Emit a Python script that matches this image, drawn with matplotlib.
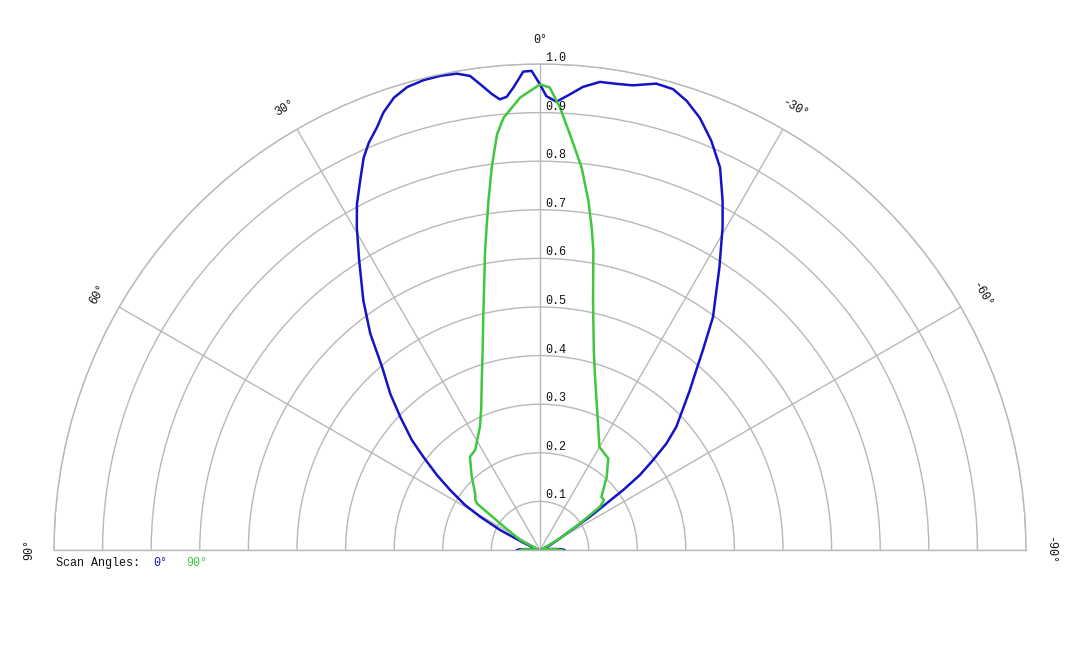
import numpy as np
import matplotlib.pyplot as plt

plt.rcParams['font.family'] = ['Liberation Mono', 'DejaVu Sans Mono']

# scan 0 deg (blue): angle in degrees, relative intensity
blue_theta = [-90, -88, -85, -80, -72, -65, -60, -58, -56.3, -55.0, -54.2,
              -53.1, -51.5, -49.9, -47.9, -43.2, -41.0, -39.2, -36.6, -32.4,
              -29.5, -27.6, -25.2, -22.7, -20.3, -18.1, -16.1, -14.0, -11.3,
              -9.3, -7.3, -5.3, -3.8, -2.1, -0.8, 0, 1.0, 2.0, 3.3, 4.2, 5.1,
              6.0, 7.3, 8.4, 9.9, 11.9, 13.9, 16.0, 17.9, 19.7, 21.1, 22.8,
              24.2, 25.7, 27.9, 29.6, 32.0, 35.3, 38.1, 40.8, 43.8, 46.4,
              49.4, 51.4, 54.0, 56.3, 59.0, 60.9, 63.4, 66, 70, 78, 85, 88,
              90]
blue_r = [0.050, 0.045, 0.025, 0.008, 0.004, 0.020, 0.045, 0.065, 0.123,
          0.167, 0.211, 0.257, 0.297, 0.340, 0.378, 0.450, 0.490, 0.530,
          0.597, 0.689, 0.763, 0.811, 0.870, 0.913, 0.948, 0.972, 0.987,
          0.989, 0.975, 0.972, 0.971, 0.957, 0.940, 0.923, 0.934, 0.958,
          0.986, 0.985, 0.953, 0.935, 0.931, 0.943, 0.966, 0.986, 0.995,
          0.997, 0.996, 0.991, 0.978, 0.956, 0.932, 0.909, 0.885, 0.851,
          0.805, 0.763, 0.702, 0.629, 0.566, 0.497, 0.445, 0.397, 0.347,
          0.307, 0.262, 0.222, 0.180, 0.141, 0.092, 0.040, 0.015, 0.005,
          0.020, 0.042, 0.047]

# scan 90 deg (green)
green_theta = [-90, -87, -82, -72, -64, -59.7, -56.3, -54.2, -52.1, -49.2,
               -42.3, -36.7, -32.8, -29.9, -25.0, -20.7, -17.5, -15.1, -12.0,
               -10.1, -9.1, -7.9, -6.2, -4.1, -2.6, -1.2, 0, 2.5, 4.8, 5.9,
               7.2, 8.4, 9.4, 10.4, 13.7, 16.0, 19.3, 22.5, 26.0, 33.0, 36.9,
               43.0, 48.9, 52.4, 53.6, 56.3, 63.4, 68, 78, 85, 88, 90]
green_r = [0.045, 0.030, 0.010, 0.004, 0.010, 0.048, 0.099, 0.152, 0.167,
           0.167, 0.204, 0.235, 0.240, 0.245, 0.283, 0.329, 0.376, 0.425,
           0.525, 0.626, 0.672, 0.725, 0.792, 0.858, 0.911, 0.952, 0.958,
           0.932, 0.893, 0.860, 0.793, 0.726, 0.673, 0.626, 0.493, 0.428,
           0.363, 0.316, 0.282, 0.245, 0.240, 0.206, 0.177, 0.168, 0.161,
           0.099, 0.046, 0.010, 0.004, 0.015, 0.035, 0.040]

r_ticks = [0.1, 0.2, 0.3, 0.4, 0.5, 0.6, 0.7, 0.8, 0.9, 1.0]
theta_ticks = [-90, -60, -30, 0, 30, 60, 90]
scan_names = ['0°', '90°']
scan_colors = ['#1414c4', '#3ec83e']
grid_col = '#b8b8b8'
text_col = '#111111'

fig = plt.figure(figsize=(10.8, 6.48), dpi=100)
# the half disc sits in the middle half of a square box, so the box runs
# past the figure top and bottom; centre ends up at (540, 550) px
ax = fig.add_axes([54 / 1080, (648 - 793) / 648, 972 / 1080, 972 / 648],
                  projection='polar')
ax.set_theta_zero_location('N')
ax.set_theta_direction(1)
ax.set_thetamin(-90)
ax.set_thetamax(90)
ax.set_ylim(0, 1.0)
ax.set_rgrids(r_ticks, labels=[])
ax.set_thetagrids(theta_ticks, labels=[])
ax.grid(True, color=grid_col, linewidth=1.0)
ax.tick_params(length=0)
for sp in ax.spines.values():
    sp.set_color(grid_col)
    sp.set_linewidth(1.0)

ax.plot(np.deg2rad(blue_theta), blue_r, color=scan_colors[0], lw=1.8,
        solid_joinstyle='round')
ax.plot(np.deg2rad(green_theta), green_r, color=scan_colors[1], lw=1.8,
        solid_joinstyle='round')

# ring labels along the 0 deg line
for r in r_ticks:
    ax.annotate(f'{r:.1f}', xy=(0, r), xytext=(5, 6),
                textcoords='offset pixels', ha='left', va='center',
                fontsize=8.5, color=text_col)

# angle labels, turned along the arc
for t in theta_ticks:
    ax.text(np.deg2rad(t), 1.05, f'{t}°', rotation=t, rotation_mode='anchor',
            ha='center', va='center', fontsize=8.5, color=text_col,
            clip_on=False)

fig.text(56 / 1080, 1 - 563 / 648, 'Scan Angles:', ha='left', va='center',
         fontsize=8.5, color=text_col)
fig.text(153 / 1080, 1 - 563 / 648, scan_names[0], ha='left', va='center',
         fontsize=8.5, color=scan_colors[0])
fig.text(186 / 1080, 1 - 563 / 648, scan_names[1], ha='left', va='center',
         fontsize=8.5, color=scan_colors[1])

fig.savefig('out.png', dpi=100)
